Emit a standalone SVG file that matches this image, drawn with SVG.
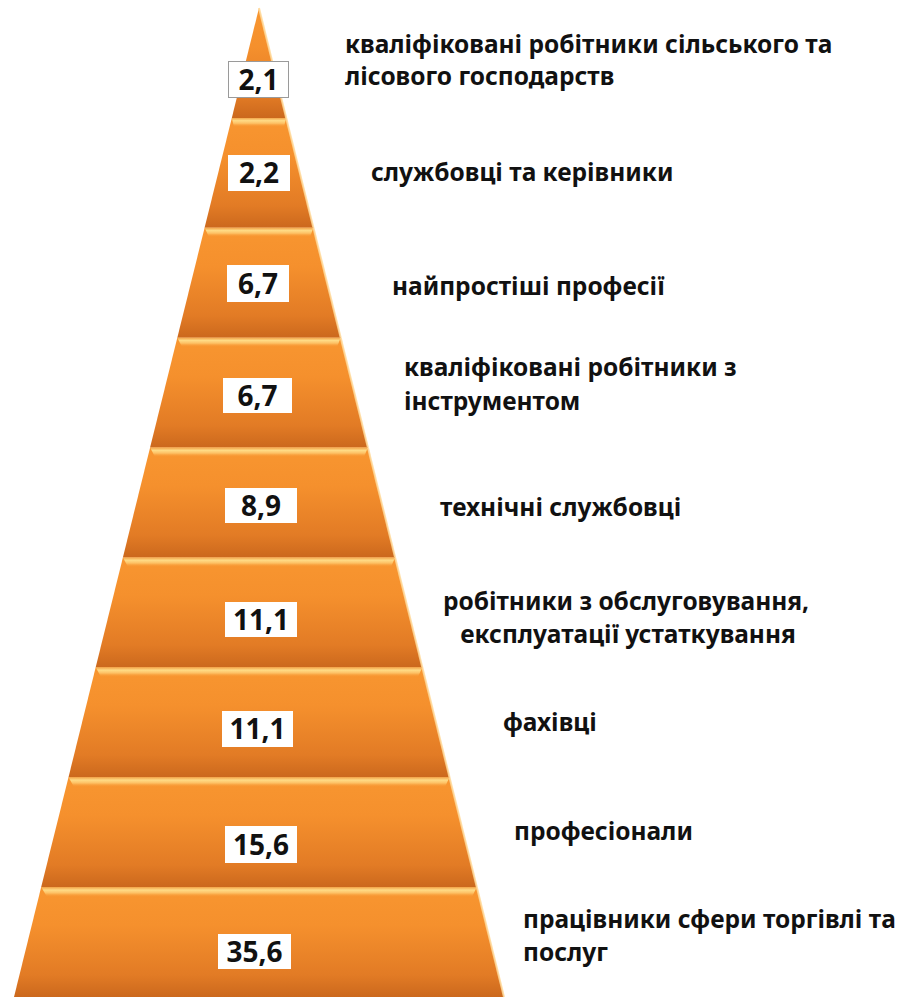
<svg xmlns="http://www.w3.org/2000/svg" width="904" height="999" viewBox="0 0 904 999">
<defs>
<linearGradient id="bandFill" x1="0" y1="0" x2="0" y2="1">
<stop offset="0" stop-color="#F89630"/>
<stop offset="0.35" stop-color="#F5902D"/>
<stop offset="0.8" stop-color="#E27B25"/>
<stop offset="1" stop-color="#CB681D"/>
</linearGradient>
<linearGradient id="hl" x1="0" y1="0" x2="0" y2="1">
<stop offset="0" stop-color="#F2A448"/>
<stop offset="0.3" stop-color="#FFDB86"/>
<stop offset="0.6" stop-color="#FDC064"/>
<stop offset="1" stop-color="#F89630" stop-opacity="0"/>
</linearGradient>
</defs>
<style>
.band{fill:url(#bandFill);}
.hl{fill:url(#hl);}
.edge{fill:none;stroke:#FFD99A;stroke-width:2;stroke-opacity:0.85;}
.box{fill:#FFFFFF;}
.val{font-family:"Noto Sans","Open Sans",sans-serif;font-weight:bold;font-size:28px;fill:#111;text-anchor:middle;}
.lbl{font-family:"Noto Sans","Open Sans",sans-serif;font-weight:bold;font-size:24.5px;fill:#111;}
</style>

<g id="level1">
<polygon class="band" points="259,8 286.2,117.9 231.8,117.9"/>
<polyline class="edge" points="259,8 286.2,117.9"/>
<rect x="228.5" y="61.5" width="60" height="36" class="box" stroke="#9A9A9A" stroke-width="1"/>
<text class="val" x="258.5" y="89.5">2,1</text>
<text class="lbl" x="345" y="53">кваліфіковані робітники сільського та</text>
<text class="lbl" x="345" y="85">лісового господарств</text>
</g>

<g id="level2">
<polygon class="band" points="231.8,117.9 286.2,117.9 313.4,227.8 204.6,227.8"/>
<polygon class="hl" points="231.8,117.9 286.2,117.9 284,127 234,127"/>
<polyline class="edge" points="286.2,117.9 313.4,227.8"/>
<rect x="228" y="155" width="62" height="36" class="box"/>
<text class="val" x="259" y="183">2,2</text>
<text class="lbl" x="371" y="181">службовці та керівники</text>
</g>

<g id="level3">
<polygon class="band" points="204.6,227.8 313.4,227.8 340.7,337.7 177.3,337.7"/>
<polygon class="hl" points="204.6,227.8 313.4,227.8 310,237 209,237"/>
<polyline class="edge" points="313.4,227.8 340.7,337.7"/>
<rect x="227" y="265" width="62" height="37" class="box"/>
<text class="val" x="258" y="293.5">6,7</text>
<text class="lbl" x="392" y="295">найпростіші професії</text>
</g>

<g id="level4">
<polygon class="band" points="177.3,337.7 340.7,337.7 367.9,447.6 150.1,447.6"/>
<polygon class="hl" points="177.3,337.7 340.7,337.7 337,347 182,347"/>
<polyline class="edge" points="340.7,337.7 367.9,447.6"/>
<rect x="223" y="378" width="69" height="35" class="box"/>
<text class="val" x="257.5" y="405.5">6,7</text>
<text class="lbl" x="404" y="376">кваліфіковані робітники з</text>
<text class="lbl" x="404" y="410">інструментом</text>
</g>

<g id="level5">
<polygon class="band" points="150.1,447.6 367.9,447.6 395.1,557.4 122.9,557.4"/>
<polygon class="hl" points="150.1,447.6 367.9,447.6 364,457 155,457"/>
<polyline class="edge" points="367.9,447.6 395.1,557.4"/>
<rect x="225" y="488" width="72" height="35" class="box"/>
<text class="val" x="261" y="515.5">8,9</text>
<text class="lbl" x="440" y="516">технічні службовці</text>
</g>

<g id="level6">
<polygon class="band" points="122.9,557.4 395.1,557.4 422.3,667.3 95.7,667.3"/>
<polygon class="hl" points="122.9,557.4 395.1,557.4 391,567 128,567"/>
<polyline class="edge" points="395.1,557.4 422.3,667.3"/>
<rect x="225" y="602" width="72" height="35" class="box"/>
<text class="val" x="261" y="629.5">11,1</text>
<text class="lbl" x="626" y="610" text-anchor="middle">робітники з обслуговування,</text>
<text class="lbl" x="628" y="643" text-anchor="middle">експлуатації устаткування</text>
</g>

<g id="level7">
<polygon class="band" points="95.7,667.3 422.3,667.3 449.5,777.2 68.5,777.2"/>
<polygon class="hl" points="95.7,667.3 422.3,667.3 418,677 101,677"/>
<polyline class="edge" points="422.3,667.3 449.5,777.2"/>
<rect x="222" y="711" width="71" height="36" class="box"/>
<text class="val" x="257.5" y="739">11,1</text>
<text class="lbl" x="503" y="731">фахівці</text>
</g>

<g id="level8">
<polygon class="band" points="68.5,777.2 449.5,777.2 476.8,887.1 41.2,887.1"/>
<polygon class="hl" points="68.5,777.2 449.5,777.2 445,787 74,787"/>
<polyline class="edge" points="449.5,777.2 476.8,887.1"/>
<rect x="225" y="826" width="72" height="37" class="box"/>
<text class="val" x="261" y="854.5">15,6</text>
<text class="lbl" x="514" y="840">професіонали</text>
</g>

<g id="level9">
<polygon class="band" points="41.2,887.1 476.8,887.1 504,997 14,997"/>
<polygon class="hl" points="41.2,887.1 476.8,887.1 472,897 47,897"/>
<polyline class="edge" points="476.8,887.1 504,997"/>
<rect x="218" y="934" width="73" height="35" class="box"/>
<text class="val" x="254.5" y="961.5">35,6</text>
<text class="lbl" x="523" y="928">працівники сфери торгівлі та</text>
<text class="lbl" x="523" y="961">послуг</text>
</g>
</svg>
